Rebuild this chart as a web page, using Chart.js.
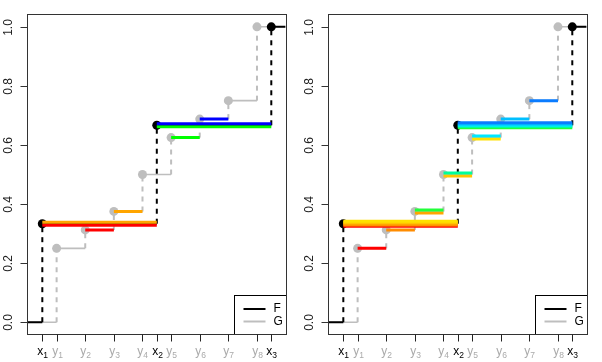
<!DOCTYPE html>
<html><head><meta charset="utf-8">
<script src="https://cdn.jsdelivr.net/npm/chart.js@4/dist/chart.umd.min.js"></script>
<style>
html,body{margin:0;padding:0;background:#fff;}
#wrap{position:relative;width:602px;height:362px;overflow:hidden;}
.pane{position:absolute;top:0;width:301px;height:362px;}
</style></head><body>
<div id="wrap">
<div class="pane" style="left:0"><canvas id="c1" width="301" height="362"></canvas></div>
<div class="pane" style="left:301px"><canvas id="c2" width="301" height="362"></canvas></div>
</div>
<script>
// ---- data ----
const fX = [1, 9, 17];                 // x1, x2, x3
const fY = [1/3, 2/3, 1];              // F jumps
const gX = [2, 4, 6, 8, 10, 12, 14, 16]; // y1..y8
const gY = [0.25, 0.3125, 0.375, 0.5, 0.625, 0.6875, 0.75, 1.0]; // G jumps
const xRange = [0, 18];
const yRange = [-0.04, 1.04];
const yTicks = [0, 0.2, 0.4, 0.6, 0.8, 1.0];
const yTickLabels = ['0.0', '0.2', '0.4', '0.6', '0.8', '1.0'];
const legendLabels = ['F', 'G'];

// coloured pieces, left panel: [from, to, level]
const leftFrom  = [fX[0], fX[0], fX[1], fX[1], gX[1], gX[2], gX[4], gX[5]];
const leftTo    = [fX[1], fX[1], fX[2], fX[2], gX[2], gX[3], gX[5], gX[6]];
const leftLevel = [fY[0], fY[0], fY[1], fY[1], gY[1], gY[2], gY[4], gY[5]];
const leftColor = ['#FF0000', '#FFA500', '#00FF00', '#0000FF', '#FF0000', '#FFA500', '#00FF00', '#0000FF'];
const leftShift = [1.5, -1.5, 1.5, -1.5, 0, 0, 0, 0];

// coloured pieces, right panel
const pal = ['#FF0000', '#FF8C00', '#FFA500', '#FFC400', '#FFE000', '#22FF3A', '#00FF99', '#00E8FF', '#00BFFF', '#0A7CFF'];
const rightFrom  = [fX[0], fX[0], fX[0], fX[0], fX[0], fX[1], fX[1], fX[1], fX[1], fX[1],
                    gX[0], gX[1], gX[2], gX[2], gX[3], gX[3], gX[4], gX[4], gX[5], gX[6]];
const rightTo    = [fX[1], fX[1], fX[1], fX[1], fX[1], fX[2], fX[2], fX[2], fX[2], fX[2],
                    gX[1], gX[2], gX[3], gX[3], gX[4], gX[4], gX[5], gX[5], gX[6], gX[7]];
const rightLevel = [fY[0], fY[0], fY[0], fY[0], fY[0], fY[1], fY[1], fY[1], fY[1], fY[1],
                    gY[0], gY[1], gY[2], gY[2], gY[3], gY[3], gY[4], gY[4], gY[5], gY[6]];
const rightColor = [pal[0], pal[1], pal[2], pal[3], pal[4], pal[5], pal[6], pal[7], pal[8], pal[9],
                    pal[0], pal[1], pal[2], pal[5], pal[3], pal[6], pal[4], pal[7], pal[8], pal[9]];
const rightShift = [2.4, 1.2, 0, -1.2, -2.4, 2.4, 1.2, 0, -1.2, -2.4,
                    0, 0, 1.5, -1.5, 1.5, -1.5, 1.5, -1.5, 0, 0];

// ---- styles ----
const GRAY = '#BEBEBE';
const FONT = '"Liberation Sans", Arial, sans-serif';

function seg(x0, x1, y0, y1, color, width, dash, shift) {
  return {data: [{x: x0, y: y0}, {x: x1, y: y1}], showLine: true, pointRadius: 0,
          borderColor: color, borderWidth: width, borderDash: dash || [], shift: shift || 0,
          borderCapStyle: 'butt', fill: false};
}
function pts(xs, ys, color) {
  return {data: xs.map((x, i) => ({x, y: ys[i]})), showLine: false, pointRadius: 4.5,
          pointBackgroundColor: color, pointBorderWidth: 0, pointBorderColor: color};
}
function stepDatasets(xs, ys, color, w) {
  const out = [];
  const lv = [0, ...ys];
  const bx = [xRange[0], ...xs, xRange[1]];
  for (let i = 0; i < lv.length; i++) out.push(seg(bx[i], bx[i + 1], lv[i], lv[i], color, w));
  for (let i = 0; i < xs.length; i++) out.push(seg(xs[i], xs[i], lv[i], lv[i + 1], color, 2, [5, 5]));
  out.push(pts(xs, ys, color));
  return out;
}

function buildDatasets(from, to, level, color, shift) {
  let list = [];
  list = list.concat(stepDatasets(gX, gY, GRAY, 1.6));
  list = list.concat(stepDatasets(fX, fY, '#000000', 2));
  for (let i = 0; i < from.length; i++) list.push(seg(from[i], to[i], level[i], level[i], color[i], 3, null, shift[i]));
  return list.reverse(); // first dataset is painted last in Chart.js
}

const shiftPlugin = {
  id: 'shift',
  beforeDatasetDraw(chart, args) {
    const s = chart.data.datasets[args.index].shift || 0;
    chart.ctx.save();
    chart.ctx.translate(0, s);
  },
  afterDatasetDraw(chart) { chart.ctx.restore(); }
};

const framePlugin = {
  id: 'frame',
  afterDraw(chart) {
    const ctx = chart.ctx, a = chart.chartArea;
    const xs = chart.scales.x, ys = chart.scales.y;
    const L = Math.round(a.left) - 0.5, R = Math.round(a.right) + 0.5;
    const T = Math.round(a.top) - 0.5, B = Math.round(a.bottom) + 0.5;
    ctx.save();
    // legend box
    const lw = 52, lh = 39;
    ctx.fillStyle = '#fff';
    ctx.fillRect(R - lw, B - lh, lw, lh);
    ctx.strokeStyle = '#000'; ctx.lineWidth = 1;
    ctx.strokeRect(R - lw, B - lh, lw, lh);
    const legendColors = ['#000000', GRAY];
    legendLabels.forEach((t, i) => {
      const yy = B - lh + 13.5 + i * 12.5;
      ctx.strokeStyle = legendColors[i]; ctx.lineWidth = 2;
      ctx.beginPath(); ctx.moveTo(R - lw + 9, yy); ctx.lineTo(R - lw + 31, yy); ctx.stroke();
      ctx.fillStyle = '#000'; ctx.font = '12px ' + FONT;
      ctx.textAlign = 'left'; ctx.textBaseline = 'middle';
      ctx.fillText(t, R - lw + 39, yy);
    });
    // plot box
    ctx.strokeStyle = '#333'; ctx.lineWidth = 1;
    ctx.strokeRect(L, T, R - L, B - T);
    // y ticks + labels
    ctx.strokeStyle = '#333';
    yTicks.forEach((v, i) => {
      const py = Math.round(ys.getPixelForValue(v)) + 0.5;
      ctx.beginPath(); ctx.moveTo(L, py); ctx.lineTo(L - 7, py); ctx.stroke();
      ctx.save();
      ctx.translate(L - 19, py);
      ctx.rotate(-Math.PI / 2);
      ctx.fillStyle = '#222'; ctx.font = '12px ' + FONT;
      ctx.textAlign = 'center'; ctx.textBaseline = 'middle';
      ctx.fillText(yTickLabels[i], 0, 0);
      ctx.restore();
    });
    // x ticks + labels
    const ticks = fX.map((v, i) => ({v, l: 'x', s: String(i + 1), c: '#000'}))
      .concat(gX.map((v, i) => ({v, l: 'y', s: String(i + 1), c: '#AAAAAA'})))
      .sort((p, q) => p.v - q.v);
    ticks.forEach(t => {
      const px = Math.round(xs.getPixelForValue(t.v)) + 0.5;
      ctx.strokeStyle = '#222';
      ctx.beginPath(); ctx.moveTo(px, B); ctx.lineTo(px, B + 7); ctx.stroke();
      ctx.font = '12px ' + FONT;
      const w1 = ctx.measureText(t.l).width;
      ctx.font = '8.5px ' + FONT;
      const w2 = ctx.measureText(t.s).width;
      const x0 = px - (w1 + w2) / 2;
      ctx.fillStyle = t.c; ctx.textAlign = 'left'; ctx.textBaseline = 'alphabetic';
      ctx.font = '12px ' + FONT;
      ctx.fillText(t.l, x0, 355);
      ctx.font = '8.5px ' + FONT;
      ctx.fillText(t.s, x0 + w1, 358);
    });
    ctx.restore();
  }
};

function makeChart(id, from, to, level, color, shift) {
  return new Chart(document.getElementById(id), {
    type: 'scatter',
    data: {datasets: buildDatasets(from, to, level, color, shift)},
    options: {
      responsive: false, animation: false, devicePixelRatio: 1,
      layout: {padding: {left: 28, right: 15.4, top: 15, bottom: 28}},
      plugins: {legend: {display: false}, tooltip: {enabled: false}},
      scales: {
        x: {type: 'linear', min: xRange[0], max: xRange[1], display: false},
        y: {type: 'linear', min: yRange[0], max: yRange[1], display: false}
      },
      elements: {line: {tension: 0}}
    },
    plugins: [shiftPlugin, framePlugin]
  });
}
makeChart('c1', leftFrom, leftTo, leftLevel, leftColor, leftShift);
makeChart('c2', rightFrom, rightTo, rightLevel, rightColor, rightShift);
</script>
</body></html>
